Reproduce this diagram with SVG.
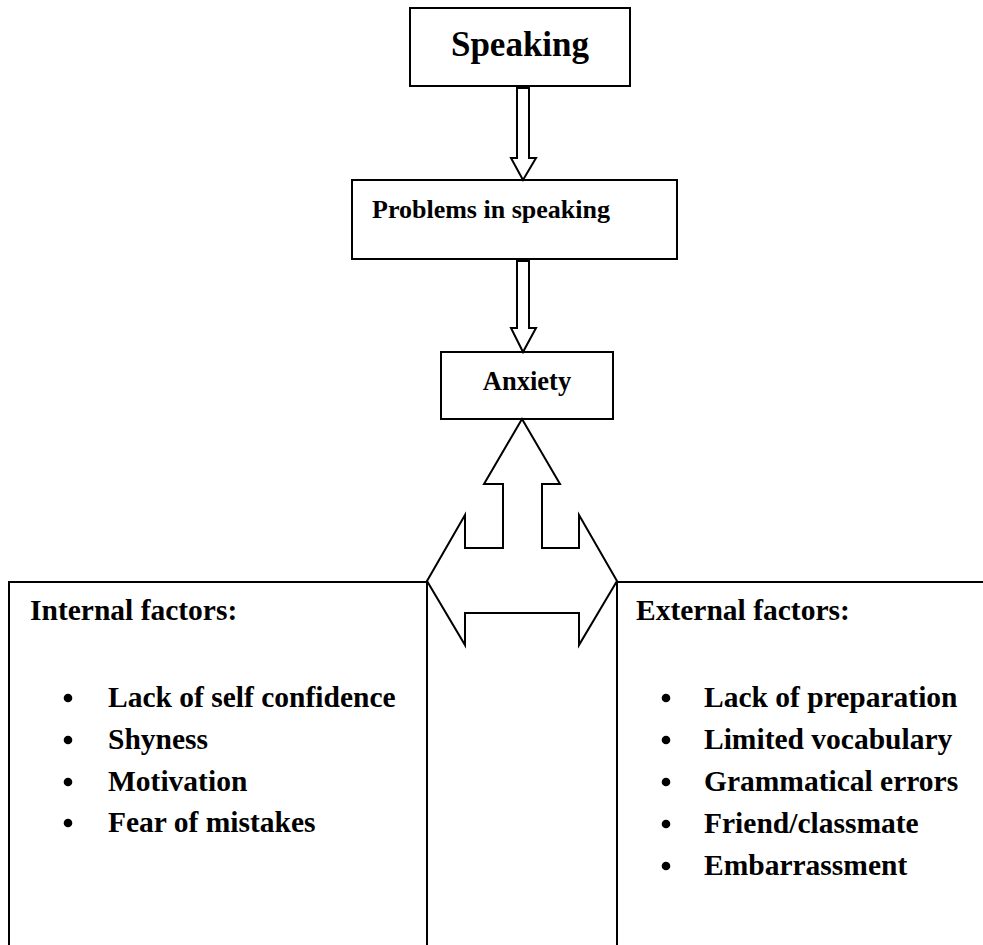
<svg xmlns="http://www.w3.org/2000/svg" width="983" height="945" viewBox="0 0 983 945">
<style>
.box{fill:#fff;stroke:#000;stroke-width:2}
.arr{fill:#fff;stroke:#000;stroke-width:2;stroke-linejoin:miter}
text{font-family:"Liberation Serif","Times New Roman",serif;font-weight:bold;fill:#000}
.b{fill:#000}
</style>
<rect width="983" height="945" fill="#fff"/>
<g id="internal">
<path class="box" d="M9,945 V582 H427 V945"/>
<text x="30" y="620" font-size="29.5">Internal factors:</text>
<circle class="b" cx="68" cy="698" r="4.3"/><text x="108" y="707" font-size="29.5">Lack of self confidence</text>
<circle class="b" cx="68" cy="740" r="4.3"/><text x="108" y="749" font-size="29.5">Shyness</text>
<circle class="b" cx="68" cy="782" r="4.3"/><text x="108" y="791" font-size="29.5">Motivation</text>
<circle class="b" cx="68" cy="823" r="4.3"/><text x="108" y="832" font-size="29.5">Fear of mistakes</text>
</g>
<g id="external">
<path class="box" d="M617,945 V582 H990"/>
<text x="636" y="620" font-size="29.5">External factors:</text>
<circle class="b" cx="666" cy="698" r="4.3"/><text x="704" y="707" font-size="29.5">Lack of preparation</text>
<circle class="b" cx="666" cy="740" r="4.3"/><text x="704" y="749" font-size="29.5">Limited vocabulary</text>
<circle class="b" cx="666" cy="782" r="4.3"/><text x="704" y="791" font-size="29.5">Grammatical errors</text>
<circle class="b" cx="666" cy="824" r="4.3"/><text x="704" y="833" font-size="29.5">Friend/classmate</text>
<circle class="b" cx="666" cy="866" r="4.3"/><text x="704" y="875" font-size="29.5">Embarrassment</text>
</g>
<g id="speaking">
<rect class="box" x="410" y="8" width="220" height="78"/>
<text x="520" y="56" font-size="35" text-anchor="middle">Speaking</text>
</g>
<g id="problems">
<rect class="box" x="352" y="180" width="325" height="79"/>
<text x="372" y="218" font-size="26">Problems in speaking</text>
</g>
<g id="anxiety">
<rect class="box" x="441" y="352" width="172" height="67"/>
<text x="527" y="390" font-size="26.5" text-anchor="middle">Anxiety</text>
</g>
<g id="connectors">
<path class="arr" d="M517,88 V158 H511 L523,180 L536,158 H529 V88 Z"/>
<path class="arr" d="M517,261 V328 H511 L523,352 L536,328 H529 V261 Z"/>
<path class="arr" d="M522,419 L484,484 H503 V548 H465 V515 L427,581 L465,645 V613 H579 V645 L617,581 L579,515 V548 H542 V484 H560 Z"/>
</g>
</svg>
